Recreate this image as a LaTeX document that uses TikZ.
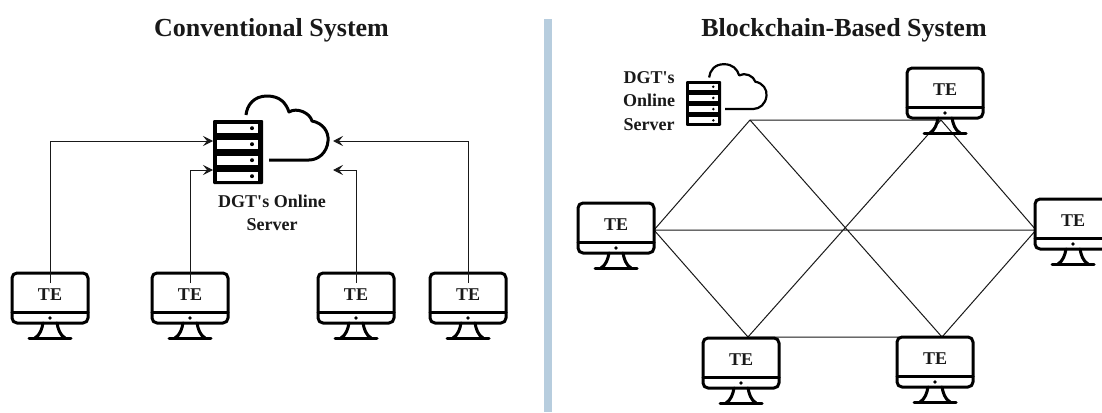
\documentclass[tikz,border=0pt]{standalone}
\usepackage{fontspec}
\setmainfont{Liberation Serif}
\usetikzlibrary{arrows.meta}
\definecolor{divbar}{RGB}{183,205,222}
\definecolor{ink}{RGB}{25,25,25}
\tikzset{
  x=1pt,y=-1pt,
  titletext/.style={font=\bfseries\fontsize{26}{28}\selectfont,text=ink},
  servertext/.style={font=\bfseries\fontsize{18}{23.5}\selectfont,text=ink,align=center,inner sep=0pt},
  tetext/.style={font=\bfseries\fontsize{18}{20}\selectfont,text=ink,inner sep=0pt},
  thick line/.style={line width=3pt,draw=black,line cap=round,line join=round},
  cloud line/.style={line width=3pt},
  link/.style={line width=1pt,draw=ink},
  arrowlink/.style={line width=1pt,draw=ink,-{Stealth[length=10pt,width=10pt,inset=4pt]}},
  monitor/.pic={
    \draw[thick line,fill=white,rounded corners=5pt] (-38,0) rectangle (38,50);
    \draw[thick line] (-38,39) -- (38,39);
    \fill (0,45) circle (1.8pt);
    \draw[thick line] (-7,50) .. controls (-8,56) and (-10,62) .. (-15,65);
    \draw[thick line] (7,50) .. controls (8,56) and (10,62) .. (15,65);
    \draw[thick line] (-21,65) -- (21,65);
  },
  serverpic/.pic={
    \fill[black,rounded corners=1pt] (0,0) rectangle (50,64);
    \foreach \yy in {4,20,36,52}{
      \fill[white] (4,\yy) rectangle (45,\yy+8.5);
      \fill[black] (39,\yy+4.2) circle (2pt);
    }
    \draw[cloud line,line cap=butt,line join=round]
      (33,-5) .. controls (34,-15) and (41,-24) .. (54,-24)
      .. controls (67,-24) and (73,-17) .. (76,-8)
      .. controls (84,-13) and (97,-7) .. (99,1)
      .. controls (110,3) and (116,12) .. (115,21)
      .. controls (114,33) and (105,40) .. (96,40)
      -- (56,40);
  }
}
\begin{document}
\begin{tikzpicture}
\useasboundingbox (0,0) rectangle (1102,412);
\fill[white] (0,0) rectangle (1102,412);
\fill[divbar] (544,19) rectangle (552,412);

\node[titletext] (t1) at (271.5,30) {Conventional System};
\node[titletext] (t2) at (844,30) {Blockchain-Based System};

% left system
\pic at (213,120) {serverpic};
\node[servertext] (srv1) at (272,213) {DGT\textquotesingle s Online\\Server};
\coordinate (srvA) at (213,141);
\coordinate (srvB) at (213,170);
\coordinate (srvC) at (333,141);
\coordinate (srvD) at (333,170);

\foreach \nm/\xx in {a/50,b/190,c/356,d/468}{
  \pic at (\xx,273) {monitor};
  \node[tetext] (\nm) at (\xx,295) {TE};
  \coordinate (\nm top) at (\xx,283);
}
\draw[arrowlink] (atop) |- (srvA);
\draw[arrowlink] (btop) |- (srvB);
\draw[arrowlink] (ctop) |- (srvD);
\draw[arrowlink] (dtop) |- (srvC);

% right system
\begin{scope}[shift={(686,81)},scale=0.7,transform shape,cloud line/.style={line width=2.2pt}]
\pic at (0,0) {serverpic};
\end{scope}
\node[servertext] (srv2) at (649,101) {DGT\textquotesingle s\\Online\\Server};

\coordinate (h1) at (750,120);
\coordinate (h2) at (941,120);
\coordinate (h3) at (1036,230);
\coordinate (h4) at (942,337);
\coordinate (h5) at (748,337);
\coordinate (h6) at (654,230);
\draw[link] (h1) -- (h2) -- (h3) -- (h4) -- (h5) -- (h6) -- cycle;
\draw[link] (h1) -- (h4) (h2) -- (h5) (h3) -- (h6);

\foreach \xx/\yy in {945/68,616/203,1073/199,741/338,935/337}{
  \pic at (\xx,\yy) {monitor};
}
\foreach \nm/\xx/\yy in {e/945/90,f/616/225,g/1073/221,h/741/360,i/935/359}{
  \node[tetext] (\nm) at (\xx,\yy) {TE};
}
\end{tikzpicture}
\end{document}
